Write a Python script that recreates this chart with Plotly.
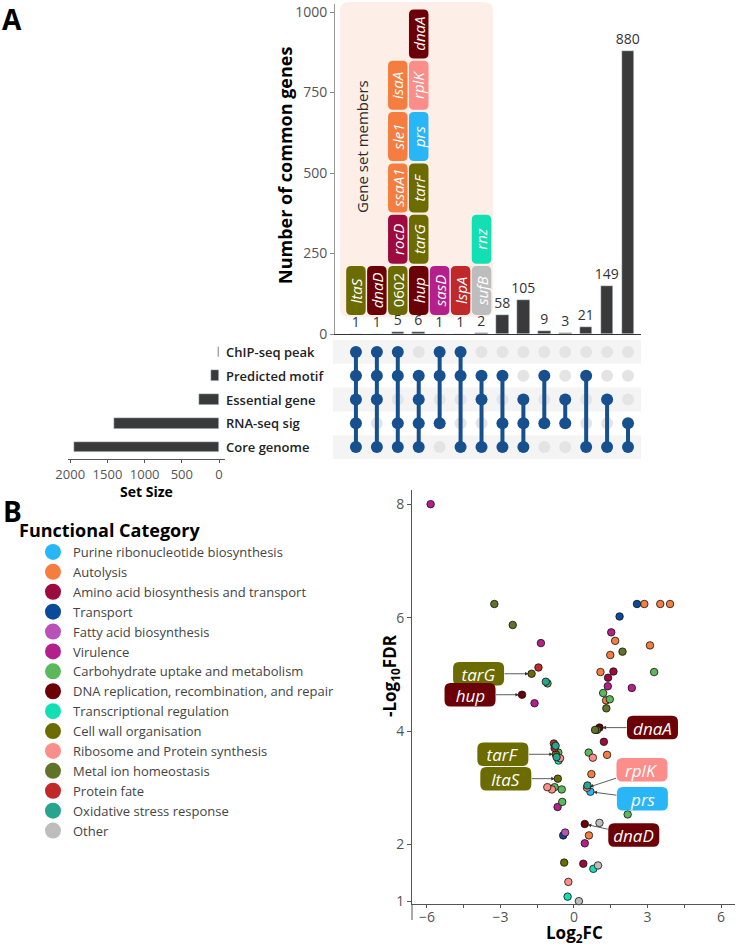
import plotly.graph_objects as go

W, H = 736, 946
FONT = "Open Sans"

# ---------------- Panel A data (UpSet) ----------------
set_names = ["ChIP-seq peak", "Predicted motif", "Essential gene", "RNA-seq sig", "Core genome"]
set_sizes = [9, 105, 267, 1410, 1955]
intersection_counts = [1, 1, 5, 6, 1, 1, 2, 58, 105, 9, 3, 21, 149, 880]
intersection_members = [
    [0, 1, 2, 3, 4],
    [0, 1, 2, 4],
    [0, 1, 3, 4],
    [1, 2, 3, 4],
    [0, 1, 3],
    [0, 1, 4],
    [1, 2, 4],
    [1, 3, 4],
    [2, 3, 4],
    [1, 3],
    [2, 3],
    [1, 4],
    [2, 4],
    [3, 4],
]
gene_set_members = [
    ["ltaS"],
    ["dnaD"],
    ["0602", "rocD", "ssaA1", "sle1", "isaA"],
    ["hup", "tarG", "tarF", "prs", "rplK", "dnaA"],
    ["sasD"],
    ["lspA"],
    ["sufB", "rnz"],
]

# ---------------- Categories ----------------
categories = [
    "Purine ribonucleotide biosynthesis",
    "Autolysis",
    "Amino acid biosynthesis and transport",
    "Transport",
    "Fatty acid biosynthesis",
    "Virulence",
    "Carbohydrate uptake and metabolism",
    "DNA replication, recombination, and repair",
    "Transcriptional regulation",
    "Cell wall organisation",
    "Ribosome and Protein synthesis",
    "Metal ion homeostasis",
    "Protein fate",
    "Oxidative stress response",
    "Other",
]
category_colors = [
    "#29b6f6", "#f47d3f", "#9c0a3e", "#0a4a9a", "#b852b8", "#b51f8c", "#5cb85c",
    "#6b0006", "#12dfb3", "#6b6b00", "#fb8d8a", "#607328", "#c0282a", "#26a48e", "#bdbdbd",
]
gene_category = {
    "ltaS": 9, "dnaD": 7, "0602": 9, "rocD": 2, "ssaA1": 1, "sle1": 1, "isaA": 1,
    "hup": 7, "tarG": 9, "tarF": 9, "prs": 0, "rplK": 10, "dnaA": 7,
    "sasD": 5, "lspA": 12, "sufB": 14, "rnz": 8,
}

# ---------------- Panel B data (volcano) ----------------
vol_log2fc = [
    -5.85, -3.25, -2.50, -1.35, -1.45, -1.73, -1.15, -1.08, -2.12, -1.61,
    2.57, 2.87, 3.52, 3.92, 1.86, 1.52, 1.68, 3.10, 1.98, 1.48,
    1.08, 1.61, 1.39, 3.27, 1.38, 2.36, 1.19, 1.46, 1.31, 1.32,
    1.04, 0.86, 0.94, 1.22, 0.60, 0.77, 1.35, 0.71, 0.55, 0.53,
    0.67, 2.19, 0.44, 1.04, 0.61, 0.44, 0.38, 0.98, 0.79, 0.20,
    -0.26, -0.23, -0.40, -0.36, -0.44, -0.67, -0.48, -0.50, -0.90, -1.09,
    -0.79, -0.66, -0.82, -0.75, -0.79, -0.64, -0.74, -0.71, -0.57, -0.63,
]
vol_neglog10fdr = [
    8.00, 6.24, 5.87, 5.55, 5.12, 5.01, 4.87, 4.84, 4.64, 4.49,
    6.24, 6.24, 6.24, 6.24, 6.02, 5.74, 5.59, 5.51, 5.40, 5.34,
    5.04, 5.05, 4.94, 5.04, 4.79, 4.76, 4.67, 4.56, 4.54, 4.40,
    4.06, 4.02, 4.02, 3.81, 3.62, 3.53, 3.58, 3.24, 3.04, 3.00,
    2.93, 2.53, 2.36, 2.38, 2.16, 2.02, 1.66, 1.63, 1.57, 1.00,
    1.08, 1.34, 1.68, 2.21, 2.16, 2.66, 2.75, 2.97, 2.97, 3.01,
    3.01, 3.16, 3.78, 3.74, 3.70, 3.62, 3.59, 3.54, 3.52, 3.48,
]
vol_category = [
    5, 11, 11, 5, 12, 9, 13, 6, 7, 5,
    3, 1, 1, 1, 3, 5, 1, 1, 11, 1,
    1, 2, 2, 6, 5, 5, 6, 6, 1, 11,
    7, 11, 9, 2, 6, 10, 1, 1, 13, 10,
    0, 6, 7, 14, 1, 5, 2, 14, 8, 14,
    8, 10, 9, 4, 3, 5, 6, 6, 10, 10,
    6, 9, 12, 13, 12, 6, 9, 13, 10, 8,
]
vol_label_genes = ["tarG", "hup", "dnaA", "tarF", "ltaS", "rplK", "prs", "dnaD"]
vol_label_points = [5, 8, 30, 66, 61, 39, 40, 42]
# label box offsets (pixels) from each point
vol_label_offsets = [(-53, 0), (-52, 0), (53, 0), (-53, 0), (-52, 0), (55, -18), (52, 7), (49, 11)]

# ---------------- helpers ----------------
def px(x):
    return x / W

def py(y):
    return 1 - y / H

def rounded(cx, cy, w, h, r):
    x0, x1, y0, y1 = cx - w / 2, cx + w / 2, cy - h / 2, cy + h / 2
    return (f"M {x0 + r},{y0} L {x1 - r},{y0} Q {x1},{y0} {x1},{y0 + r} "
            f"L {x1},{y1 - r} Q {x1},{y1} {x1 - r},{y1} L {x0 + r},{y1} "
            f"Q {x0},{y1} {x0},{y1 - r} L {x0},{y0 + r} Q {x0},{y0} {x0 + r},{y0} Z")

def rounded_paper(l, t, r_, b, rad):
    x0, x1 = px(l), px(r_)
    y0, y1 = py(b), py(t)
    rx, ry = rad / W, rad / H
    return (f"M {x0 + rx},{y0} L {x1 - rx},{y0} Q {x1},{y0} {x1},{y0 + ry} "
            f"L {x1},{y1 - ry} Q {x1},{y1} {x1 - rx},{y1} L {x0 + rx},{y1} "
            f"Q {x0},{y1} {x0},{y1 - ry} L {x0},{y0 + ry} Q {x0},{y0} {x0 + rx},{y0} Z")

BAR = "#3a3a3a"
DOT = "#17508e"
DOT_OFF = "#e4e4e4"
TICKC = "#555555"

fig = go.Figure()
shapes = []
annotations = []

cols = list(range(len(intersection_counts)))

# ---------- top intersection bars ----------
fig.add_trace(go.Bar(
    x=cols, y=intersection_counts, marker_color=BAR, width=0.6,
    text=[str(v) for v in intersection_counts], textposition="outside",
    constraintext="none",
    textfont=dict(family=FONT, size=14, color="#333333"), cliponaxis=False,
    xaxis="x", yaxis="y", showlegend=False, hoverinfo="skip",
))

# ---------- matrix ----------
for c, members in enumerate(intersection_members):
    inactive = [i for i in range(len(set_names)) if i not in members]
    fig.add_trace(go.Scatter(
        x=[c] * len(inactive), y=inactive, mode="markers",
        marker=dict(size=12, color=DOT_OFF), xaxis="x2", yaxis="y2",
        showlegend=False, hoverinfo="skip",
    ))
for c, members in enumerate(intersection_members):
    fig.add_trace(go.Scatter(
        x=[c] * len(members), y=members, mode="lines+markers",
        line=dict(color=DOT, width=4), marker=dict(size=12, color=DOT),
        xaxis="x2", yaxis="y2", showlegend=False, hoverinfo="skip",
    ))

for i in range(len(set_names)):
    if i % 2 == 0:
        shapes.append(dict(type="rect", xref="x2 domain", yref="y2",
                           x0=-0.007, x1=1.0, y0=i - 0.5, y1=i + 0.5,
                           fillcolor="#f4f4f4", line_width=0, layer="below"))

# ---------- set size bars ----------
fig.add_trace(go.Bar(
    x=set_sizes, y=list(range(len(set_names))), orientation="h",
    marker_color=BAR, width=0.45, xaxis="x3", yaxis="y3",
    showlegend=False, hoverinfo="skip",
))
for i, name in enumerate(set_names):
    annotations.append(dict(x=px(224), y=i, xref="paper", yref="y3", text=name,
                            showarrow=False, xanchor="left", yanchor="middle",
                            font=dict(family=FONT, size=13, color="#222222", weight=600)))

# ---------- gene set member boxes ----------
shapes.append(dict(type="path", xref="paper", yref="paper",
                   path=rounded_paper(340, 2, 493, 317, 9),
                   fillcolor="#fdefe8", line_width=0, layer="below"))
annotations.append(dict(x=px(362), y=py(147), xref="paper", yref="paper",
                        xanchor="center", yanchor="middle",
                        text="Gene set members", textangle=-90, showarrow=False,
                        font=dict(family=FONT, size=15, color="#2b2b2b")))
for c, genes in enumerate(gene_set_members):
    for k, g in enumerate(genes):
        off = 43.5 + 51.3 * k
        shapes.append(dict(type="path", xref="x", yref="y", xsizemode="pixel",
                           ysizemode="pixel", xanchor=c, yanchor=0,
                           path=rounded(0, off, 19.5, 49, 5),
                           fillcolor=category_colors[gene_category[g]],
                           line_width=0, layer="above"))
        txt = g if g[0].isdigit() else f"<i>{g}</i>"
        annotations.append(dict(x=c, y=0, xref="x", yref="y", yshift=off,
                                xanchor="center", yanchor="middle",
                                text=txt, textangle=-90, showarrow=False,
                                font=dict(family=FONT, size=15, color="white")))

# ---------- volcano ----------
for ci, cname in enumerate(categories):
    idx = [j for j, cc in enumerate(vol_category) if cc == ci]
    if idx:
        fig.add_trace(go.Scatter(
            x=[vol_log2fc[j] for j in idx], y=[vol_neglog10fdr[j] for j in idx],
            mode="markers", name=cname, showlegend=False,
            marker=dict(size=7.5, color=category_colors[ci], line=dict(color="#111111", width=0.8)),
            xaxis="x4", yaxis="y4", hoverinfo="skip", cliponaxis=False,
        ))
for ci, cname in enumerate(categories):
    fig.add_trace(go.Scatter(
        x=[None], y=[None], mode="markers", name=cname,
        marker=dict(size=16, color=category_colors[ci], line=dict(width=0)),
        xaxis="x4", yaxis="y4", showlegend=True, hoverinfo="skip",
    ))

for g, pi, (ax, ay) in zip(vol_label_genes, vol_label_points, vol_label_offsets):
    xv, yv = vol_log2fc[pi], vol_neglog10fdr[pi]
    shapes.append(dict(type="path", xref="x4", yref="y4", xsizemode="pixel",
                       ysizemode="pixel", xanchor=xv, yanchor=yv,
                       path=rounded(ax, -ay, 51, 23.5, 6),
                       fillcolor=category_colors[gene_category[g]],
                       line_width=0, layer="above"))
    annotations.append(dict(x=xv, y=yv, xref="x4", yref="y4", ax=ax, ay=ay,
                            axref="pixel", ayref="pixel",
                            xanchor="center", yanchor="middle",
                            text=f"<i>{g}</i>", width=49, height=22, showarrow=True,
                            arrowhead=2, arrowsize=0.9, arrowwidth=0.8,
                            arrowcolor="#333333", standoff=3,
                            font=dict(family=FONT, size=17, color="white")))

# extension of the volcano y axis line below the x axis
shapes.append(dict(type="line", xref="paper", yref="paper",
                   x0=px(412), x1=px(412), y0=py(904), y1=py(920),
                   line=dict(color="#555555", width=1)))

# ---------- titles / panel labels ----------
def label(x, y, text, size, angle=0, xanchor="center"):
    return dict(x=px(x), y=py(y), xref="paper", yref="paper", text=text,
                xanchor=xanchor, yanchor="middle", textangle=angle, showarrow=False,
                font=dict(family=FONT, size=size, color="black"))

annotations += [
    label(12, 19, "<b>A</b>", 28),
    label(12, 511, "<b>B</b>", 28),
    label(285, 166, "<b>Number of common genes</b>", 18, -90),
    label(146, 491, "<b>Set Size</b>", 14),
    label(17, 530, "<b>Functional Category</b>", 18, 0, "left"),
    label(390, 676, "<b>-Log<sub>10</sub>FDR</b>", 17, -90),
    label(574, 933, "<b>Log<sub>2</sub>FC</b>", 17),
]

tickfont = dict(family=FONT, size=14, color=TICKC)
xr = [-1.0, 13.62]

fig.update_layout(
    width=W, height=H, margin=dict(l=0, r=0, t=0, b=0, pad=0, autoexpand=False),
    paper_bgcolor="white", plot_bgcolor="rgba(0,0,0,0)",
    font=dict(family=FONT),
    bargap=0,
    shapes=shapes, annotations=annotations,
    xaxis=dict(domain=[px(335), px(641)], range=xr, showticklabels=False, ticks="",
               showgrid=False, zeroline=False, showline=True, linecolor="#333333",
               linewidth=1, anchor="y", automargin=False),
    yaxis=dict(domain=[py(334), py(4)], range=[0, 1025], tickvals=[0, 250, 500, 750, 1000],
               ticks="outside", ticklen=4, tickcolor="#888888", tickfont=tickfont,
               showgrid=False, zeroline=False, showline=True, linecolor="#999999",
               anchor="x", automargin=False),
    xaxis2=dict(domain=[px(335), px(641)], range=xr, visible=False, anchor="y2"),
    yaxis2=dict(domain=[py(459), py(340)], range=[4.5, -0.5], visible=False, anchor="x2"),
    xaxis3=dict(domain=[px(68), px(225)], range=[2030, -80],
                tickvals=[0, 500, 1000, 1500, 2000], ticks="outside", ticklen=3,
                tickcolor="#555555", tickfont=dict(family=FONT, size=13, color=TICKC),
                showgrid=False, zeroline=False, showline=True, linecolor="#555555",
                anchor="y3", automargin=False),
    yaxis3=dict(domain=[py(459), py(340)], range=[4.5, -0.5], visible=False, anchor="x3"),
    xaxis4=dict(domain=[px(412), px(735)], range=[-6.61, 6.57],
                tickvals=[-6, -3, 0, 3, 6], ticks="outside", ticklen=3,
                ticklabelstandoff=-3,
                tickcolor="#555555", tickfont=tickfont,
                minor=dict(tickvals=[-4.5, -1.5, 1.5, 4.5], ticks="outside", ticklen=3,
                           tickcolor="#555555"),
                showgrid=False, zeroline=False, showline=True, linecolor="#555555",
                anchor="y4", automargin=False),
    yaxis4=dict(domain=[py(904), py(490)], range=[0.95, 8.25],
                tickvals=[1, 2, 4, 6, 8], ticks="outside", ticklen=4,
                tickcolor="#555555", tickfont=tickfont,
                showgrid=False, zeroline=False, showline=True, linecolor="#555555",
                anchor="x4", automargin=False),
    legend=dict(x=px(33), y=py(537), xanchor="left", yanchor="top",
                bgcolor="rgba(0,0,0,0)", font=dict(family=FONT, size=13, color="#444444"),
                itemsizing="trace", tracegroupgap=0),
)

fig.write_html("out.html", config={"displayModeBar": False},
               post_script="document.body.style.margin='0px';")
